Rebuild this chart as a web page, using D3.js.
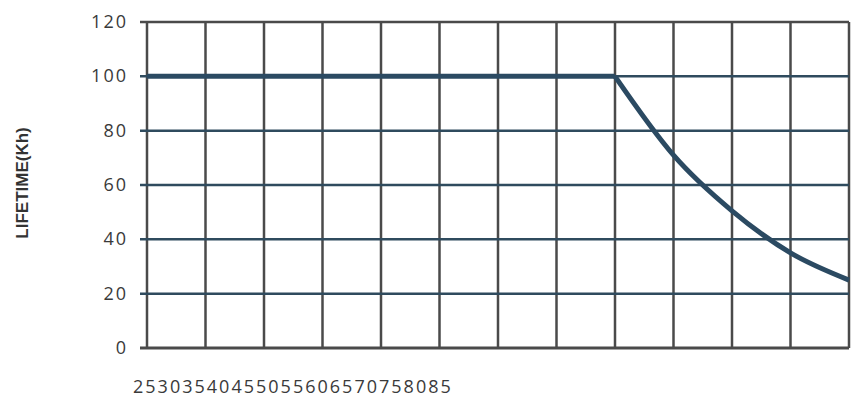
<!DOCTYPE html>
<html>
<head>
<meta charset="utf-8">
<script src="https://cdn.jsdelivr.net/npm/d3@7"></script>
<style>
  body { margin: 0; background: #fff; }
  svg { display: block; }
</style>
</head>
<body>
<script>
let w = 860;
let h = 401;

// temperature categories along the x axis
var temps = [25, 30, 35, 40, 45, 50, 55, 60, 65, 70, 75, 80, 85];
// lifetime in thousand hours
var lifetime = [100, 100, 100, 100, 100, 100, 100, 100, 100, 71, 50.5, 35, 25];
var yTicks = [0, 20, 40, 60, 80, 100, 120];

let plotLeft = 147, plotRight = 849, plotTop = 22, plotBottom = 348;

let svg = d3.select("body").append("svg").attr("width", w).attr("height", h);

let xScale = d3.scaleLinear().domain([25, 85]).range([plotLeft, plotRight]);
let yScale = d3.scaleLinear().domain([0, 120]).range([plotBottom, plotTop]);

// vertical grid lines
svg.append("g")
    .selectAll("line")
    .data(temps)
    .enter()
    .append("line")
    .attr("x1", d => xScale(d))
    .attr("x2", d => xScale(d))
    .attr("y1", yScale(120))
    .attr("y2", yScale(0))
    .attr("stroke", "#4a4a4a")
    .attr("stroke-width", 2.5);

// horizontal grid lines
svg.append("g")
    .selectAll("line")
    .data(yTicks)
    .enter()
    .append("line")
    .attr("x1", plotLeft - 7)
    .attr("x2", plotRight)
    .attr("y1", d => yScale(d))
    .attr("y2", d => yScale(d))
    .attr("stroke", d => (d == 0 || d == 120) ? "#4a4a4a" : "#2f4b5e")
    .attr("stroke-width", d => d == 0 ? 3 : 2.5);

// y tick labels
svg.append("g")
    .selectAll("text")
    .data(yTicks)
    .enter()
    .append("text")
    .attr("x", 128)
    .attr("y", d => yScale(d) + 6)
    .attr("text-anchor", "end")
    .style("font-family", "Open Sans")
    .style("font-size", "18px")
    .style("letter-spacing", "2px")
    .attr("fill", "#3a3a3a")
    .text(d => d);

// x tick labels, squashed together at the left
svg.append("g")
    .selectAll("text")
    .data(temps)
    .enter()
    .append("text")
    .attr("x", (d, i) => 133 + i * 24.6)
    .attr("y", 393)
    .style("font-family", "Open Sans")
    .style("font-size", "18px")
    .style("letter-spacing", "2px")
    .attr("fill", "#3a3a3a")
    .text(d => d);

// y axis title
svg.append("text")
    .attr("transform", "translate(28, 183) rotate(-90)")
    .attr("text-anchor", "middle")
    .style("font-family", "Liberation Sans")
    .style("font-size", "17px")
    .style("font-weight", "bold")
    .attr("fill", "#333")
    .text("LIFETIME(Kh)");

// lifetime curve: flat part straight, falling part smoothed
let flatLine = d3.line()
    .x((d, i) => xScale(temps[i]))
    .y(d => yScale(d));

let fallLine = d3.line()
    .x((d, i) => xScale(temps[i + 8]))
    .y(d => yScale(d))
    .curve(d3.curveMonotoneX);

svg.append("path")
    .datum(lifetime.slice(0, 9))
    .attr("d", flatLine)
    .attr("fill", "none")
    .attr("stroke", "#2b4a62")
    .attr("stroke-width", 5);

svg.append("path")
    .datum(lifetime.slice(8))
    .attr("d", fallLine)
    .attr("fill", "none")
    .attr("stroke", "#2b4a62")
    .attr("stroke-width", 5)
    .attr("stroke-linejoin", "round");
</script>
</body>
</html>
